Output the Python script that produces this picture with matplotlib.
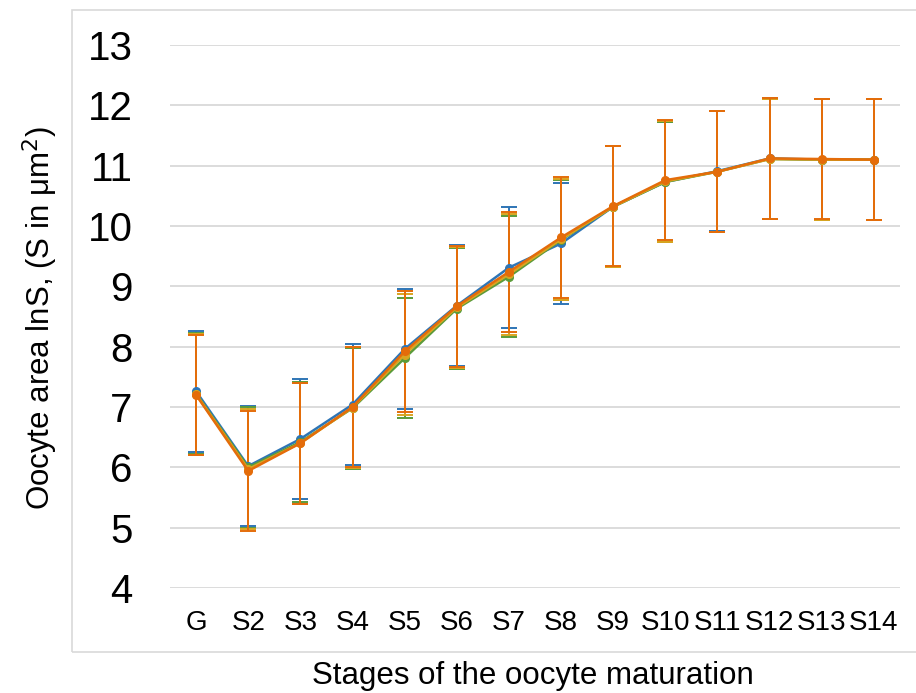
import matplotlib
matplotlib.use('Agg')
import matplotlib.pyplot as plt
from matplotlib.patches import Rectangle
import numpy as np

stages = ['G', 'S2', 'S3', 'S4', 'S5', 'S6', 'S7', 'S8', 'S9', 'S10', 'S11', 'S12', 'S13', 'S14']

# mean lnS per stage, one list per series
blue = [7.26, 6.02, 6.47, 7.04, 7.96, 8.68, 9.31, 9.71, 10.32, 10.73, 10.91, 11.12, 11.10, 11.10]
green = [7.22, 6.00, 6.42, 6.98, 7.81, 8.63, 9.16, 9.77, 10.32, 10.73, 10.90, 11.11, 11.10, 11.10]
gold = [7.21, 5.97, 6.40, 6.99, 7.87, 8.65, 9.20, 9.78, 10.32, 10.74, 10.90, 11.11, 11.10, 11.10]
orange = [7.20, 5.94, 6.40, 7.00, 7.92, 8.67, 9.24, 9.81, 10.33, 10.76, 10.90, 11.12, 11.11, 11.10]
err = [1.0] * len(stages)

plt.rcParams['font.family'] = ['Liberation Sans', 'DejaVu Sans']

fig = plt.figure(figsize=(9.16, 6.93), dpi=100)
fig.patches.append(Rectangle((72 / 916, 1 - 652 / 693), 1.0, (652 - 10) / 693,
                             transform=fig.transFigure, fill=False,
                             edgecolor='#d9d9d9', linewidth=1.2))

ax = fig.add_axes([170 / 916, 1 - 588 / 693, 730 / 916, 543 / 693])
x = np.arange(len(stages))

series = [(blue, '#2e75b6'), (green, '#5b9b3a'), (gold, '#d9a520'), (orange, '#e46c0a')]
for vals, col in series:
    ax.errorbar(x, vals, yerr=err, color=col, ecolor=col, linewidth=1.8,
                elinewidth=1.4, capsize=6, capthick=1.4, marker='o', markersize=5.5,
                zorder=3)

ax.set_xlim(-0.5, len(stages) - 0.5)
ax.set_ylim(4, 13)
ax.set_yticks(range(4, 14))
ax.set_xticks(x)
ax.set_xticklabels(stages)
ax.grid(axis='y', color='#d9d9d9', linewidth=1.3)
ax.set_axisbelow(True)
for s in ax.spines.values():
    s.set_visible(False)
ax.tick_params(axis='y', length=0, labelsize=29, pad=27)
ax.tick_params(axis='x', length=0, labelsize=20, pad=16)

fig.text(40 / 916, 1 - 318 / 693, 'Oocyte area lnS, (S in μm$^2$)', rotation=90,
         ha='center', va='center', fontsize=22.5)
fig.text(533 / 916, 1 - 676 / 693, 'Stages of the oocyte maturation',
         ha='center', va='center', fontsize=22.5)

fig.savefig('out.png', dpi=100)
